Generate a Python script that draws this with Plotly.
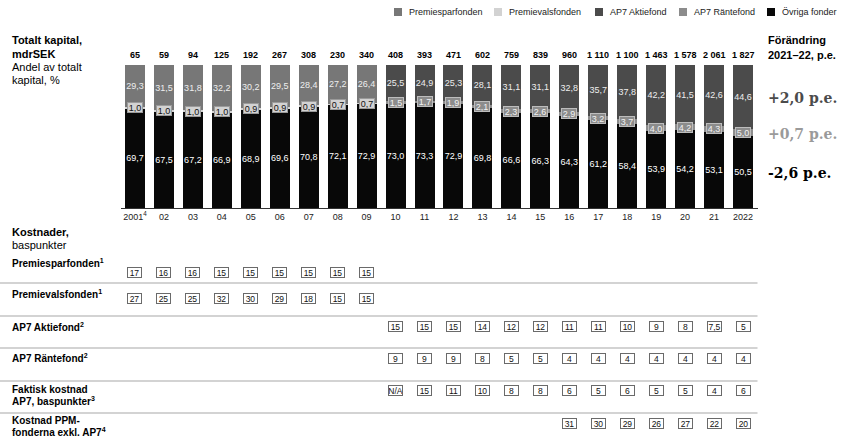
import plotly.graph_objects as go

W, H = 842, 445

# ---------------- data ----------------
years = [str(y) for y in range(2001, 2023)]
tick_labels = ["2001<sup>4</sup>", "02", "03", "04", "05", "06", "07", "08", "09", "10",
               "11", "12", "13", "14", "15", "16", "17", "18", "19", "20", "21", "2022"]
totals = [65, 59, 94, 125, 192, 267, 308, 230, 340, 408, 393, 471, 602, 759, 839,
          960, 1110, 1100, 1463, 1578, 2061, 1827]
premiespar = [29.3, 31.5, 31.8, 32.2, 30.2, 29.5, 28.4, 27.2, 26.4] + [None] * 13
premieval = [1.0, 1.0, 1.0, 1.0, 0.9, 0.9, 0.9, 0.7, 0.7] + [None] * 13
ap7_aktie = [None] * 9 + [25.5, 24.9, 25.3, 28.1, 31.1, 31.1, 32.8, 35.7, 37.8, 42.2, 41.5, 42.6, 44.6]
ap7_ranta = [None] * 9 + [1.5, 1.7, 1.9, 2.1, 2.3, 2.6, 2.9, 3.2, 3.7, 4.0, 4.2, 4.3, 5.0]
ovriga = [69.7, 67.5, 67.2, 66.9, 68.9, 69.6, 70.8, 72.1, 72.9, 73.0, 73.3, 72.9, 69.8,
          66.6, 66.3, 64.3, 61.2, 58.4, 53.9, 54.2, 53.1, 50.5]

change_labels = ["+2,0 p.e.", "+0,7 p.e.", "-2,6 p.e."]

cost_premiespar = [17, 16, 16, 15, 15, 15, 15, 15, 15] + [None] * 13
cost_premieval = [27, 25, 25, 32, 30, 29, 18, 15, 15] + [None] * 13
cost_ap7_aktie = [None] * 9 + [15, 15, 15, 14, 12, 12, 11, 11, 10, 9, 8, 7.5, 5]
cost_ap7_ranta = [None] * 9 + [9, 9, 9, 8, 5, 5, 4, 4, 4, 4, 4, 4, 4]
cost_faktisk = [None] * 9 + ["N/A", 15, 11, 10, 8, 8, 6, 5, 6, 5, 5, 4, 6]
cost_ppm = [None] * 15 + [31, 30, 29, 26, 27, 22, 20]

# ---------------- styling ----------------
FONT = "Arial, Liberation Sans, sans-serif"
SERIF = "Georgia, DejaVu Serif, serif"
C_SPAR = "#777777"
C_VAL = "#d2d2d2"
C_AKTIE = "#4b4b4b"
C_RANTA = "#8c8c8c"
C_OVR = "#080808"


def px_x(p):
    return p / W


def px_y(p):
    return 1 - p / H


def fmt(v):
    if v is None:
        return None
    if isinstance(v, str):
        return v
    if float(v).is_integer():
        return str(int(v))
    return f"{v:.1f}".replace(".", ",")


def fmt1(v):
    return f"{v:.1f}".replace(".", ",")


fig = go.Figure()
xidx = list(range(len(years)))


def add_bar(name, vals, color, textcolor=None):
    xs = [i for i, v in zip(xidx, vals) if v is not None]
    ys = [v for v in vals if v is not None]
    fig.add_trace(go.Bar(
        x=xs, y=ys, name=name, marker=dict(color=color, line=dict(width=0)),
        text=[fmt1(v) for v in ys] if textcolor else None,
        textposition="inside" if textcolor else "none",
        insidetextanchor="middle", textangle=0, constraintext="none",
        textfont=dict(family=FONT, size=9, color=textcolor or "#fff"),
        showlegend=False, hoverinfo="skip",
    ))


add_bar("Övriga fonder", ovriga, C_OVR, "#ffffff")
add_bar("Premievalsfonden", premieval, C_VAL)
add_bar("AP7 Räntefond", ap7_ranta, C_RANTA)
add_bar("Premiesparfonden", premiespar, C_SPAR, "#eeeeee")
add_bar("AP7 Aktiefond", ap7_aktie, C_AKTIE, "#eeeeee")

annotations = []
shapes = []

# totals above bars
for i, t in zip(xidx, totals):
    annotations.append(dict(
        x=i, xref="x", y=100, yref="y", yanchor="bottom", yshift=3,
        text=f"<b>{t:,}</b>".replace(",", "\u00a0"), showarrow=False,
        font=dict(family=FONT, size=9, color="#000"),
    ))

# middle (small) segment labels in boxes
for i, o, pv, rv in zip(xidx, ovriga, premieval, ap7_ranta):
    if pv is not None:
        v, bg, fc, bc = pv, C_VAL, "#111111", "#9a9a9a"
    else:
        v, bg, fc, bc = rv, C_RANTA, "#f2f2f2", "#bdbdbd"
    annotations.append(dict(
        x=i, xref="x", y=o + v / 2, yref="y", text=fmt1(v), showarrow=False,
        font=dict(family=FONT, size=9, color=fc), bgcolor=bg, bordercolor=bc,
        borderwidth=1, borderpad=0, width=14, height=9,
    ))


def txt(x, y, text, size=11, color="#000", family=FONT, anchor="left"):
    annotations.append(dict(
        x=px_x(x), xref="paper", y=px_y(y), yref="paper", xanchor=anchor, yanchor="middle",
        text=text, showarrow=False, font=dict(family=family, size=size, color=color), align="left",
    ))


txt(10, 40, "<b>Totalt kapital,</b>")
txt(10, 54, "<b>mdrSEK</b>")
txt(10, 67, "Andel av totalt")
txt(10, 80, "kapital, %")
txt(10, 232, "<b>Kostnader,</b>")
txt(10, 245, "baspunkter")

# right headings
txt(766, 40, "<b>Förändring</b>")
txt(766, 55, "<b>2021–22, p.e.</b>")
for lab, yy, col in zip(change_labels, [98, 134, 173], [C_AKTIE, "#9a9a9a", "#000"]):
    txt(766, yy, f"<b>{lab}</b>", size=14, color=col, family=SERIF)

# legend (manual)
legend_items = [("Premiesparfonden", C_SPAR, 394), ("Premievalsfonden", C_VAL, 494),
                ("AP7 Aktiefond", C_AKTIE, 595), ("AP7 Räntefond", C_RANTA, 679),
                ("Övriga fonder", C_OVR, 767)]
for name, col, sx in legend_items:
    shapes.append(dict(type="rect", xref="paper", yref="paper",
                       x0=px_x(sx), x1=px_x(sx + 8), y0=px_y(16), y1=px_y(8),
                       fillcolor=col, line=dict(width=0)))
    txt(sx + 13, 12, name, size=9, color="#222")

# cost table
rows = [
    ("<b>Premiesparfonden<sup>1</sup></b>", 263, cost_premiespar, 272),
    ("<b>Premievalsfonden<sup>1</sup></b>", 294, cost_premieval, 304),
    ("<b>AP7 Aktiefond<sup>2</sup></b>", 327, cost_ap7_aktie, 331.5),
    ("<b>AP7 Räntefond<sup>2</sup></b>", 358, cost_ap7_ranta, 364),
    ("<b>Faktisk kostnad</b>", 389, cost_faktisk, 396),
    ("<b>AP7, baspunkter<sup>3</sup></b>", 401, None, None),
    ("<b>Kostnad PPM-</b>", 420, cost_ppm, 428.5),
    ("<b>fonderna exkl. AP7<sup>4</sup></b>", 432, None, None),
]
for label, ly, vals, by in rows:
    txt(10, ly, label, size=10)
    if vals is None:
        continue
    for i, v in zip(xidx, vals):
        if v is None:
            continue
        annotations.append(dict(
            x=i, xref="x", y=px_y(by), yref="paper", text=fmt(v), showarrow=False,
            font=dict(family=FONT, size=8.5, color="#111"), bgcolor="#ffffff",
            bordercolor="#6a6a6a", borderwidth=1, borderpad=0, width=13, height=9,
        ))

for ly in [283, 316, 348, 381, 413]:
    shapes.append(dict(type="line", xref="paper", yref="paper", x0=0, x1=px_x(757.5),
                       y0=px_y(ly), y1=px_y(ly), line=dict(color="#c4c4c4", width=1.5)))

fig.update_layout(
    width=W, height=H, margin=dict(l=0, r=0, t=0, b=0),
    paper_bgcolor="#ffffff", plot_bgcolor="#ffffff",
    barmode="stack", bargap=0.31,
    font=dict(family=FONT, size=9, color="#222"),
    xaxis=dict(domain=[px_x(120.5), px_x(757.5)], range=[-0.5, 21.5],
               tickvals=xidx, ticktext=tick_labels, showline=True, linecolor="#333",
               linewidth=1, ticks="", showgrid=False, zeroline=False,
               tickfont=dict(family=FONT, size=9, color="#222"), fixedrange=True),
    yaxis=dict(domain=[px_y(208), px_y(65)], range=[0, 100], visible=False, fixedrange=True),
    annotations=annotations, shapes=shapes, showlegend=False,
)

fig.write_html("out.html", config={"displayModeBar": False},
               post_script="document.body.style.margin='0';document.body.style.overflow='hidden';")
